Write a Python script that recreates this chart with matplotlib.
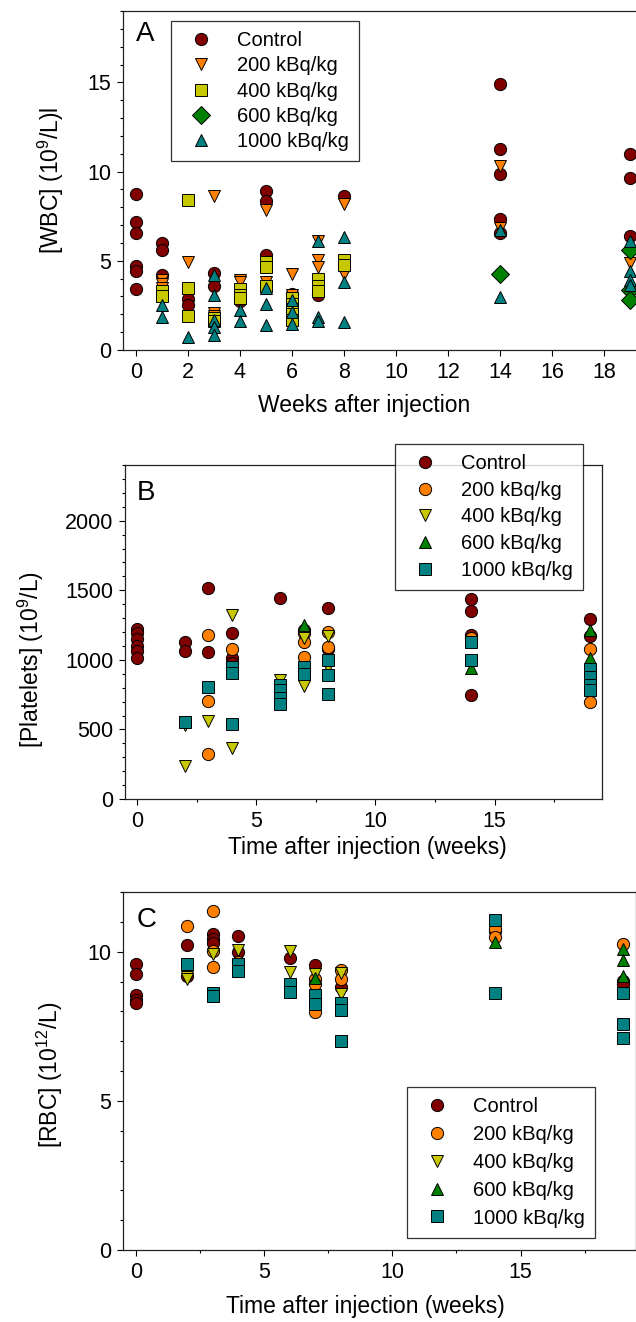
import matplotlib
matplotlib.use("Agg")
import matplotlib.pyplot as plt
from matplotlib.ticker import MultipleLocator

plt.rcParams["font.family"] = ["Liberation Sans", "DejaVu Sans"]
plt.rcParams["mathtext.fontset"] = "custom"
plt.rcParams["mathtext.rm"] = "Liberation Sans"

# ---- data: {week: [values]} per dose group ----
groups = ["Control", "200 kBq/kg", "400 kBq/kg", "600 kBq/kg", "1000 kBq/kg"]
colors = ["#800000", "#FF8000", "#C8C800", "#008000", "#008080"]

# panel A - WBC
wbc_control = {0: [8.75, 7.2, 6.55, 4.7, 4.4, 3.4], 1: [6.0, 5.6, 4.2], 2: [2.85, 2.5],
               3: [4.3, 3.6], 4: [2.75], 5: [8.9, 8.35, 5.3], 6: [3.15], 7: [3.1],
               8: [8.65], 14: [14.9, 11.25, 9.85, 7.35, 6.55], 19: [11.0, 9.65, 6.4]}
wbc_200 = {1: [3.9, 3.7, 3.5], 2: [4.95], 3: [8.65, 2.05, 1.9], 4: [3.95, 3.8],
           5: [7.85, 3.8], 6: [4.25, 3.1], 7: [6.1, 5.05, 4.65], 8: [8.2, 4.25],
           14: [10.3, 6.85], 19: [4.9]}
wbc_400 = {1: [3.3, 3.0], 2: [8.4, 3.5, 1.9], 3: [1.8, 1.6], 4: [3.4, 3.1, 2.9],
           5: [4.95, 4.65, 3.6], 6: [2.9, 2.6, 2.3, 2.0, 1.7], 7: [4.0, 3.6, 3.3],
           8: [5.05, 4.75]}
wbc_600 = {14: [4.25], 19: [5.6, 3.35, 2.8]}
wbc_1000 = {1: [2.55, 1.85], 2: [0.75], 3: [4.2, 3.1, 1.7, 1.3, 0.85], 4: [2.25, 1.6],
            5: [3.5, 2.6, 1.4], 6: [2.8, 2.15, 1.45], 7: [6.1, 1.85, 1.65],
            8: [6.35, 3.8, 1.55], 14: [6.7, 2.95], 19: [6.1, 4.4, 3.95, 3.65]}

# panel B - platelets
plt_control = {0: [1220, 1190, 1150, 1100, 1060, 1010], 2: [1125, 1065], 3: [1515, 1055],
               4: [1190, 1010, 975], 6: [1445], 7: [1215, 920], 8: [1375, 1080],
               14: [1435, 1350, 1180, 750], 19: [1290, 1170]}
plt_200 = {3: [1180, 705, 325], 4: [1075], 7: [1190, 1125, 1020], 8: [1200, 1095],
           14: [1155], 19: [1075, 700]}
plt_400 = {2: [530, 240], 3: [560], 4: [1325, 370], 6: [855], 7: [1160, 810],
           8: [1170, 950]}
plt_600 = {7: [1250], 14: [940], 19: [1215, 1010]}
plt_1000 = {2: [555], 3: [805], 4: [950, 905, 540], 6: [820, 780, 725, 685],
            7: [950, 900], 8: [1000, 890, 755], 14: [1125, 1000], 19: [935, 875, 820, 780]}

# panel C - RBC
rbc_control = {0: [9.57, 9.25, 8.56, 8.38, 8.28], 2: [10.22, 9.2], 3: [10.6, 10.42, 10.3],
               4: [10.53, 9.98], 6: [9.78], 7: [9.55, 8.3], 8: [8.83], 14: [10.7],
               19: [9.03, 8.9]}
rbc_200 = {2: [10.87], 3: [11.37, 10.03, 9.5], 4: [9.64], 7: [9.09, 8.92, 7.97],
           8: [9.39, 9.09], 14: [10.76, 10.48], 19: [10.26]}
rbc_400 = {2: [9.14, 9.1], 3: [9.92], 4: [10.06], 6: [10.03, 9.31], 7: [9.25],
           8: [9.28, 8.58]}
rbc_600 = {7: [9.12], 14: [10.31], 19: [10.09, 9.73, 9.2]}
rbc_1000 = {2: [9.59], 3: [8.61, 8.53], 4: [9.57, 9.36], 6: [8.92, 8.66], 7: [8.55, 8.25],
            8: [8.27, 8.03, 7.02], 14: [11.06, 8.61], 19: [8.61, 7.58, 7.11]}

W, H = 636, 1322
fig = plt.figure(figsize=(W / 100, H / 100), dpi=100)


def box(l, t, r, b):
    return [l / W, 1 - b / H, (r - l) / W, (b - t) / H]


def scatter(ax, data_list, markers):
    for name, col, mk, d in zip(groups, colors, markers, data_list):
        xs, ys = [], []
        for wk, vals in d.items():
            xs += [wk] * len(vals)
            ys += vals
        ax.plot(xs, ys, ls="none", marker=mk, ms=8.8, mfc=col, mec="black",
                mew=0.7, label=name, clip_on=False)


def style(ax, letter, lx, ly):
    for s in ax.spines.values():
        s.set_linewidth(0.9)
        s.set_color("#222222")
    ax.tick_params(which="major", direction="out", length=4.5, width=0.8,
                   labelsize=15.5, pad=4)
    ax.tick_params(which="minor", direction="out", length=2.5, width=0.8)
    ax.text(lx, ly, letter, transform=ax.transAxes, fontsize=20, va="top", ha="left")


def legend(ax, x, y, sp):
    lg = ax.legend(loc="upper left", bbox_to_anchor=(x / W, 1 - y / H),
                   bbox_transform=fig.transFigure, fontsize=14.5, frameon=True,
                   fancybox=False, borderpad=0.5, handlelength=2.0,
                   handletextpad=0.8, labelspacing=sp, borderaxespad=0)
    lg.get_frame().set_edgecolor("black")
    lg.get_frame().set_linewidth(0.9)
    lg.set_zorder(5)


# A
axA = fig.add_axes(box(123, 11, 643, 350))
scatter(axA, [wbc_control, wbc_200, wbc_400, wbc_600, wbc_1000], ["o", "v", "s", "D", "^"])
axA.set_xlim(-0.5, 19.5)
axA.set_ylim(0, 19)
axA.xaxis.set_major_locator(MultipleLocator(2))
axA.yaxis.set_major_locator(MultipleLocator(5))
axA.yaxis.set_minor_locator(MultipleLocator(1))
style(axA, "A", 0.025, 0.97)
axA.set_xlabel("Weeks after injection", fontsize=16.5)
axA.set_ylabel(r"[WBC] (10$\mathregular{^9}$/L)l", fontsize=16.5)
axA.xaxis.set_label_coords(0.463, -0.13)
axA.yaxis.set_label_coords(-0.11, 0.5)
legend(axA, 171, 21, 0.31)

# B
axB = fig.add_axes(box(125, 465, 602, 799))
scatter(axB, [plt_control, plt_200, plt_400, plt_600, plt_1000], ["o", "o", "v", "^", "s"])
axB.set_xlim(-0.5, 19.5)
axB.set_ylim(0, 2400)
axB.xaxis.set_major_locator(MultipleLocator(5))
axB.xaxis.set_minor_locator(MultipleLocator(2.5))
axB.yaxis.set_major_locator(MultipleLocator(500))
axB.yaxis.set_minor_locator(MultipleLocator(100))
style(axB, "B", 0.025, 0.955)
axB.set_xlabel("Time after injection (weeks)", fontsize=16.5)
axB.set_ylabel(r"[Platelets] (10$\mathregular{^9}$/L)", fontsize=16.5)
axB.xaxis.set_label_coords(0.509, -0.11)
axB.yaxis.set_label_coords(-0.166, 0.416)
legend(axB, 395, 444, 0.38)

# C
axC = fig.add_axes(box(123, 892, 636, 1250))
scatter(axC, [rbc_control, rbc_200, rbc_400, rbc_600, rbc_1000], ["o", "o", "v", "^", "s"])
axC.set_xlim(-0.5, 19.5)
axC.set_ylim(0, 12)
axC.xaxis.set_major_locator(MultipleLocator(5))
axC.xaxis.set_minor_locator(MultipleLocator(2.5))
axC.yaxis.set_major_locator(MultipleLocator(5))
axC.yaxis.set_minor_locator(MultipleLocator(1))
style(axC, "C", 0.027, 0.958)
axC.set_xlabel("Time after injection (weeks)", fontsize=16.5)
axC.set_ylabel(r"[RBC] (10$\mathregular{^{12}}$/L)", fontsize=16.5)
axC.xaxis.set_label_coords(0.472, -0.125)
axC.yaxis.set_label_coords(-0.113, 0.49)
legend(axC, 407, 1087, 0.44)

fig.savefig("out.png", dpi=100)
